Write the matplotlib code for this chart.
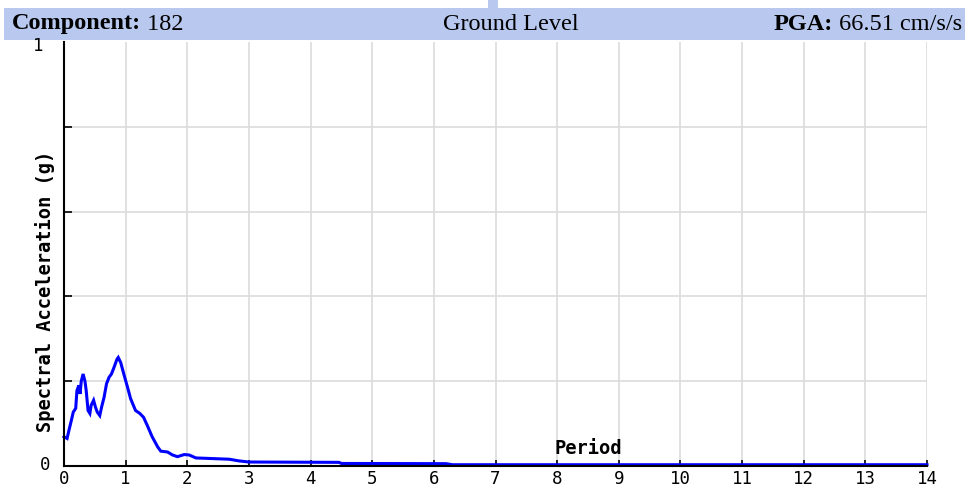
import matplotlib
matplotlib.use("Agg")
import matplotlib.pyplot as plt
from matplotlib.patches import Rectangle

# Data: spectral acceleration (g) vs period (s)
period = [0.00, 0.05, 0.08, 0.12, 0.15, 0.19, 0.21, 0.24, 0.26, 0.28, 0.31, 0.34,
          0.36, 0.39, 0.42, 0.44, 0.48, 0.51, 0.54, 0.58, 0.61, 0.65, 0.69, 0.73,
          0.77, 0.81, 0.86, 0.88, 0.92, 0.97, 1.03, 1.08, 1.16, 1.23, 1.29, 1.35,
          1.43, 1.52, 1.57, 1.68, 1.76, 1.84, 1.95, 2.03, 2.14, 2.68, 2.84, 3.00,
          4.46, 4.50, 6.20, 6.30, 14.00]
sa = [0.069, 0.065, 0.084, 0.108, 0.127, 0.136, 0.178, 0.190, 0.170, 0.200, 0.217, 0.200,
      0.178, 0.131, 0.124, 0.143, 0.155, 0.139, 0.127, 0.119, 0.139, 0.162, 0.194, 0.209,
      0.217, 0.232, 0.252, 0.256, 0.244, 0.217, 0.186, 0.159, 0.131, 0.124, 0.115, 0.096,
      0.069, 0.045, 0.035, 0.033, 0.026, 0.022, 0.027, 0.026, 0.019, 0.016, 0.012, 0.0094,
      0.0086, 0.0060, 0.0055, 0.0030, 0.0030]

x_ticks = list(range(0, 15))
y_grid = [0.2, 0.4, 0.6, 0.8]

component_label = "Component:"
component_value = " 182"
level_label = "Ground Level"
pga_label = "PGA:"
pga_value = " 66.51 cm/s/s"

W, H = 969, 487
fig = plt.figure(figsize=(W / 100, H / 100), dpi=100)

def fx(px):
    return px / W

def fy(py):
    return 1 - py / H

band_color = "#b8c8ee"
fig.patches.append(Rectangle((fx(4), fy(40)), fx(961), 32 / H, transform=fig.transFigure,
                             facecolor=band_color, edgecolor="none", zorder=0))
fig.patches.append(Rectangle((fx(488), fy(8)), fx(10), 8 / H, transform=fig.transFigure,
                             facecolor=band_color, edgecolor="none", zorder=0))

ax = fig.add_axes([fx(64), fy(466), fx(927 - 64), (466 - 42) / H])
ax.plot(period, sa, color="#0000ff", lw=2.2, solid_joinstyle="miter", zorder=3, clip_on=False)
ax.set_xlim(0, 14)
ax.set_ylim(0, 1)

for v in x_ticks[1:]:
    ax.axvline(v, color="#dcdcdc", lw=1.2, zorder=1)
for v in y_grid:
    ax.axhline(v, color="#dcdcdc", lw=1.2, zorder=1)

for s in ["top", "right"]:
    ax.spines[s].set_visible(False)
ax.spines["left"].set_color("black")
ax.spines["bottom"].set_color("black")
ax.spines["left"].set_linewidth(1.5)
ax.spines["bottom"].set_linewidth(1.5)
ax.spines["left"].set_zorder(4)
ax.spines["bottom"].set_zorder(4)

ax.set_xticks(x_ticks)
ax.set_xticklabels([str(v) for v in x_ticks], family="DejaVu Sans Mono", fontsize=12.5)
ax.tick_params(axis="x", direction="in", length=4, width=1.2, pad=3, colors="black")
ax.set_yticks(y_grid)
ax.set_yticklabels([])
ax.tick_params(axis="y", direction="in", length=6, width=1.2)

# y end labels
fig.text(fx(38), fy(46), "1", ha="center", va="center", family="DejaVu Sans Mono", fontsize=12.5)
fig.text(fx(45), fy(465), "0", ha="center", va="center", family="DejaVu Sans Mono", fontsize=12.5)

fig.text(fx(45), fy(291), "Spectral Acceleration (g)", rotation=90, ha="center", va="center",
         family="DejaVu Sans Mono", fontweight="bold", fontsize=13.5)
fig.text(fx(588), fy(449), "Period", ha="center", va="center",
         family="DejaVu Sans Mono", fontweight="bold", fontsize=13.5)

# header texts
serif = "Liberation Serif"
fs = 17.5
yc = fy(24)
t1 = fig.text(fx(12), yc, component_label, ha="left", va="center", family=serif,
              fontweight="bold", fontsize=fs)
fig.canvas.draw()
r = fig.canvas.get_renderer()
bb = t1.get_window_extent(r)
fig.text(bb.x1 / W, yc, component_value, ha="left", va="center", family=serif, fontsize=fs)

fig.text(fx(511), yc, level_label, ha="center", va="center", family=serif, fontsize=fs)

t2 = fig.text(fx(962), yc, pga_value, ha="right", va="center", family=serif, fontsize=fs)
fig.canvas.draw()
bb2 = t2.get_window_extent(r)
fig.text(bb2.x0 / W, yc, pga_label, ha="right", va="center", family=serif,
         fontweight="bold", fontsize=fs)

fig.savefig("out.png", dpi=100)
